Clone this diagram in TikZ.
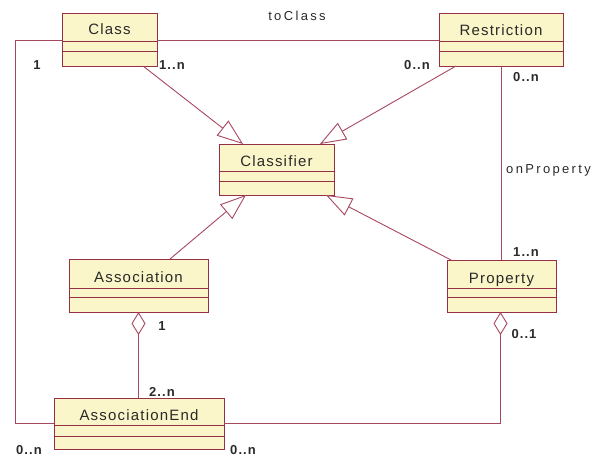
\documentclass[tikz,border=0pt]{standalone}
\usepackage{fontspec}
\setmainfont{Liberation Sans}
\newfontfamily\clsfont[LetterSpace=8]{Liberation Sans}
\newfontfamily\lblfont[LetterSpace=18]{Liberation Sans}
\newfontfamily\mulfont[LetterSpace=8]{Liberation Sans Bold}
\usetikzlibrary{arrows.meta}
\definecolor{boxfill}{HTML}{FAF6C9}
\definecolor{boxline}{HTML}{963046}
\definecolor{conn}{HTML}{A8485F}
\definecolor{txt}{HTML}{2A2A2A}
\tikzset{
  umlbox/.style={draw=boxline, fill=boxfill, line width=1pt, inner sep=0pt, outer sep=0pt, anchor=north west},
  clsname/.style={font=\clsfont\fontsize{15}{15}\selectfont, text=txt, anchor=base, inner sep=0pt},
  mult/.style={font=\mulfont\fontsize{13}{13}\selectfont, text=txt, inner sep=0pt},
  rolelbl/.style={font=\lblfont\fontsize{13}{13}\selectfont, text=txt, inner sep=0pt, anchor=base},
  conline/.style={draw=conn, line width=0.9pt},
  gen/.style={conline, -{Triangle[open, length=26pt, width=19pt, fill=white]}},
  agg/.style={conline, {Diamond[open, length=23pt, width=14pt, fill=white]}-},
}
% #1 name #2 x #3 y #4 w #5 h #6 div1 #7 div2 #8 baseline #9 text
\newcommand{\umlcls}[9]{%
  \node[umlbox, minimum width=#4pt, minimum height=#5pt] (#1) at (#2,#3) {};
  \draw[boxline, line width=0.9pt] ([yshift=-#6pt]#1.north west) -- ([yshift=-#6pt]#1.north east);
  \draw[boxline, line width=0.9pt] ([yshift=-#7pt]#1.north west) -- ([yshift=-#7pt]#1.north east);
  \draw[boxline, line width=1.6pt] ([xshift=0.3pt]#1.north east) -- ([xshift=0.3pt,yshift=-0.3pt]#1.south east) -- ([yshift=-0.3pt]#1.south west);
  \node[clsname] (#1-name) at ([yshift=-#8pt]#1.north) {#9};
}
\begin{document}
\begin{tikzpicture}[x=1pt, y=-1pt]
\useasboundingbox (0,0) rectangle (592,459);
\coordinate (lcorner) at (15,423);

\umlcls{class}{62}{13}{95}{53}{28}{38}{21}{Class}
\umlcls{restriction}{439}{13}{124}{53}{28}{38}{22}{Restriction}
\umlcls{classifier}{219}{144}{115}{51}{27}{37}{22}{Classifier}
\umlcls{association}{69}{259}{139}{53}{29}{38}{23}{Association}
\umlcls{assocend}{54}{398}{170}{51}{27}{38}{22}{AssociationEnd}
\umlcls{property}{447}{260}{109}{52}{28}{37}{23}{Property}

% associations
\draw[conline] ([yshift=-27pt]class.north east) -- ([yshift=-27pt]restriction.north west);
\draw[conline] ([yshift=-27pt]class.north west) -| (lcorner) -- (lcorner -| assocend.west);
\draw[agg] ([xshift=-1pt]property.south) -- ([xshift=-1pt]property.south |- lcorner) -- (lcorner -| assocend.east);
\draw[conline] (restriction.south) -- (restriction.south |- property.north);
\draw[agg] (association.south) -- (association.south |- assocend.north);

% generalizations
\draw[gen] ([xshift=-14pt]class.south east) -- ([xshift=24pt]classifier.north west);
\draw[gen] ([xshift=17pt]restriction.south west) -- ([xshift=-14pt]classifier.north east);
\draw[gen] ([xshift=-38pt]association.north east) -- ([xshift=27pt]classifier.south west);
\draw[gen] ([xshift=4pt]property.north west) -- ([xshift=-8pt]classifier.south east);

% labels
\node[rolelbl] (toclass) at (297,20) {toClass};
\node[rolelbl, anchor=base west] (onprop) at (506,173) {onProperty};
\node[mult] (m1) at (37,65) {1};
\node[mult] (m2) at (172,65) {1..n};
\node[mult] (m3) at (417,65) {0..n};
\node[mult] (m4) at (526,77) {0..n};
\node[mult] (m5) at (526,252) {1..n};
\node[mult] (m6) at (524,334) {0..1};
\node[mult] (m7) at (162,326) {1};
\node[mult] (m8) at (162,392) {2..n};
\node[mult] (m9) at (29,450) {0..n};
\node[mult] (m10) at (243,450) {0..n};
\end{tikzpicture}
\end{document}
